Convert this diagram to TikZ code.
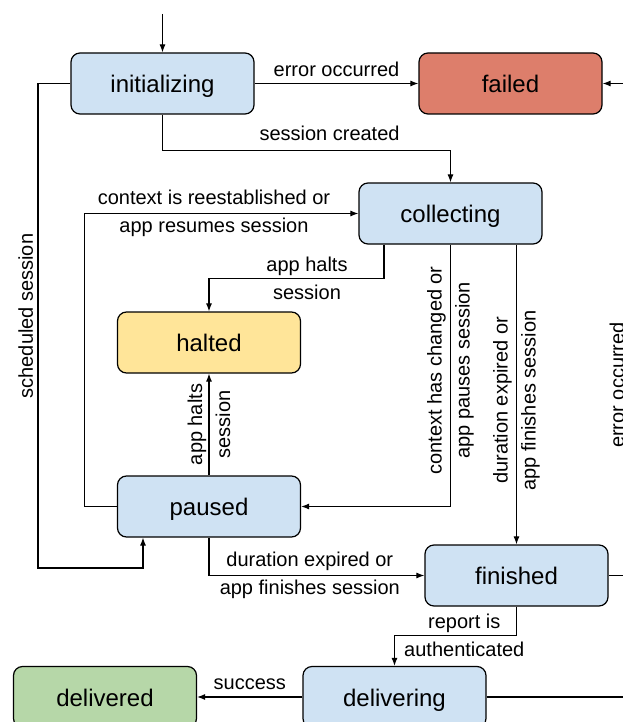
\documentclass[tikz,border=0pt]{standalone}
\usepackage{fontspec}
\setmainfont{Liberation Sans}
\usetikzlibrary{arrows.meta}
\definecolor{stateblue}{HTML}{CFE2F3}
\definecolor{statered}{HTML}{DD7E6B}
\definecolor{stateyellow}{HTML}{FFE599}
\definecolor{stategreen}{HTML}{B6D7A8}
\begin{document}
\begin{tikzpicture}[x=1pt,y=-1pt,
    state/.style={draw,fill=stateblue,rounded corners=9pt,line width=1.2pt,
      minimum width=183pt,minimum height=61pt,text height=22pt,text depth=4pt,
      font=\fontsize{24}{28}\selectfont},
    trans/.style={line width=1.1pt,-{Latex[length=8pt,width=6pt]}},
    lbl/.style={font=\fontsize{20}{28}\selectfont,align=center}]
  \useasboundingbox (0,0) rectangle (623,722);
  \clip (0,0) rectangle (623,722);

  % states
  \node[state] (init) at (162.5,83.5) {initializing};
  \node[state,fill=statered] (failed) at (510.5,83.5) {failed};
  \node[state] (collect) at (450.5,213.5) {collecting};
  \node[state,fill=stateyellow] (halted) at (209,342.5) {halted};
  \node[state] (paused) at (209,506.5) {paused};
  \node[state] (finished) at (516.5,575.5) {finished};
  \node[state,fill=stategreen] (delivered) at (105,697) {delivered};
  \node[state] (delivering) at (394.5,697) {delivering};

  \coordinate (start) at (162.5,14);
  \coordinate (schedcorner) at (38,568);
  \coordinate (errtop) at (645,83.5);
  \coordinate (errbot) at (645,697);

  % transitions
  \draw[trans] (start) -- (init);
  \draw[trans] (init) -- node[lbl,above=3pt]{error occurred} (failed);
  \draw[trans] (init.south) -- ++(0,35.5)
    -| node[lbl,above=6pt,pos=0.29]{session created} (collect.north);
  \draw[trans] (init.west) -| node[lbl,rotate=90,above=1pt,pos=0.74]{scheduled session} (schedcorner)
    -| ([xshift=-66pt]paused.south);
  \draw[trans] (paused.west) -- ++(-32,0)
    |- node[lbl,pos=0.736]{context is reestablished or\\app resumes session} (collect.west);
  \draw[trans] ([xshift=-66.5pt]collect.south) -- ++(0,34)
    -| node[lbl,pos=0.22]{app halts\\session} (halted.north);
  \draw[trans] (paused) -- node[lbl,rotate=90]{app halts\\session} (halted);
  \draw[trans] (collect.south)
    |- node[lbl,rotate=90,pos=0.24]{context has changed or\\app pauses session} (paused.east);
  \draw[trans] ([xshift=66pt]collect.south)
    -- node[lbl,rotate=90,pos=0.52]{duration expired or\\app finishes session} (finished.north);
  \draw[trans] (paused.south)
    |- node[lbl,pos=0.734]{duration expired or\\app finishes session} (finished.west);
  \draw[trans] (finished.south) -- ++(0,28.5)
    -| node[lbl,pos=0.214]{report is\\authenticated} (delivering.north);
  \draw[trans] (delivering) -- node[lbl,above=3pt]{success} (delivered);

  % error branch on the right
  \draw (finished.east) -- (finished.east -| errbot);
  \draw[trans] (delivering.east) -- (errbot) -- (errtop) -- (failed.east);
  \node[lbl,rotate=90,anchor=base] (errlbl) at (624,385) {error occurred};
\end{tikzpicture}
\end{document}
